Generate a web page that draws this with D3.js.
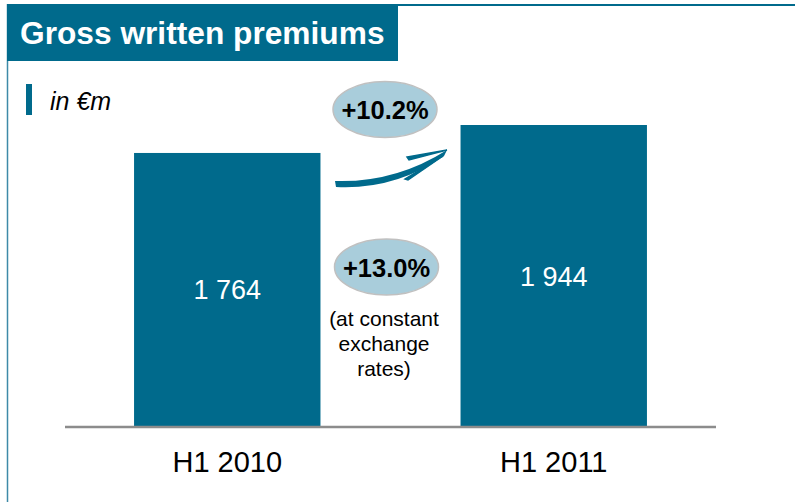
<!DOCTYPE html>
<html>
<head>
<meta charset="utf-8">
<script src="https://cdn.jsdelivr.net/npm/d3@7"></script>
<style>
  html, body { margin: 0; padding: 0; background: #fff; }
  svg { display: block; }
  text { font-family: "Liberation Sans", Arial, sans-serif; }
</style>
</head>
<body>
<svg id="chart" width="795" height="502"></svg>
<script>
const categories = ["H1 2010", "H1 2011"];
const values = [1764, 1944];
const valueLabels = ["1 764", "1 944"];
const title = "Gross written premiums";
const unitLabel = "in €m";
const growthLabels = ["+10.2%", "+13.0%"];
const noteLines = ["(at constant", "exchange", "rates)"];

const teal = "#006a8c";
const svg = d3.select("#chart");
const W = 795, H = 502;

// frame
svg.append("line").attr("x1", 7.5).attr("x2", 7.5).attr("y1", 4).attr("y2", H)
  .attr("stroke", "#3d8aa8").attr("stroke-width", 1.5);
svg.append("line").attr("x1", 398).attr("x2", W).attr("y1", 5).attr("y2", 5)
  .attr("stroke", teal).attr("stroke-width", 2);

// title box
svg.append("rect").attr("x", 7).attr("y", 4).attr("width", 391).attr("height", 57).attr("fill", teal);
svg.append("text").attr("x", 20).attr("y", 43.5).attr("fill", "#fff")
  .attr("font-weight", "bold").attr("font-size", 31.7).text(title);

// unit label
svg.append("rect").attr("x", 26).attr("y", 84).attr("width", 6).attr("height", 31).attr("fill", teal);
svg.append("text").attr("x", 50).attr("y", 110).attr("font-style", "italic")
  .attr("font-size", 25).attr("fill", "#000").text(unitLabel);

// scales
const x = d3.scaleBand().domain(categories).range([65, 716]).paddingInner(0.429).paddingOuter(0.2115);
const y = d3.scaleLinear().domain([0, 1944]).range([427, 125]);

// bars
svg.selectAll("rect.bar").data(values).enter().append("rect").attr("class", "bar")
  .attr("x", (d, i) => x(categories[i]))
  .attr("width", x.bandwidth())
  .attr("y", d => y(d))
  .attr("height", d => y(0) - y(d))
  .attr("fill", teal);

// value labels
svg.selectAll("text.val").data(values).enter().append("text").attr("class", "val")
  .attr("x", (d, i) => x(categories[i]) + x.bandwidth() / 2)
  .attr("y", d => (y(d) + y(0)) / 2 + 9.5)
  .attr("text-anchor", "middle").attr("fill", "#fff").attr("font-size", 27)
  .text((d, i) => valueLabels[i]);

// baseline axis
const axis = d3.axisBottom(x).tickSize(0).tickPadding(0);
const g = svg.append("g").attr("transform", `translate(0,${y(0)})`).call(axis);
g.select(".domain").attr("stroke", "#8c8c8c").attr("stroke-width", 2.5).attr("d", "M65,0H716");
g.selectAll(".tick text").attr("font-size", 29).attr("fill", "#000")
  .attr("font-family", "Liberation Sans, Arial, sans-serif")
  .attr("dy", 0).attr("y", 45);

// bubbles
const bubbles = [{cx: 385, cy: 109.5, t: growthLabels[0]}, {cx: 386.5, cy: 267, t: growthLabels[1]}];
bubbles.forEach(b => {
  svg.append("ellipse").attr("cx", b.cx).attr("cy", b.cy).attr("rx", 52).attr("ry", 28)
    .attr("fill", "#a9cddb").attr("stroke", "#c0c0c0").attr("stroke-width", 1.5);
  svg.append("text").attr("x", b.cx).attr("y", b.cy + 9.5).attr("text-anchor", "middle")
    .attr("font-weight", "bold").attr("font-size", 25.5).attr("fill", "#000").text(b.t);
});

// note
noteLines.forEach((t, i) => {
  svg.append("text").attr("x", 384).attr("y", 326 + i * 25).attr("text-anchor", "middle")
    .attr("font-size", 21).attr("fill", "#000").text(t);
});

// swoosh arrow
svg.append("path")
  .attr("d", "M335,181 Q395,183 447,150 L444,156 Q395,190 336,187 Z")
  .attr("fill", teal);
svg.append("path")
  .attr("d", "M447,150 L407,157 L409,160 Z M443,156 L405,179 L408,180 Z")
  .attr("fill", teal).attr("stroke", teal).attr("stroke-width", 1.5);
</script>
</body>
</html>
